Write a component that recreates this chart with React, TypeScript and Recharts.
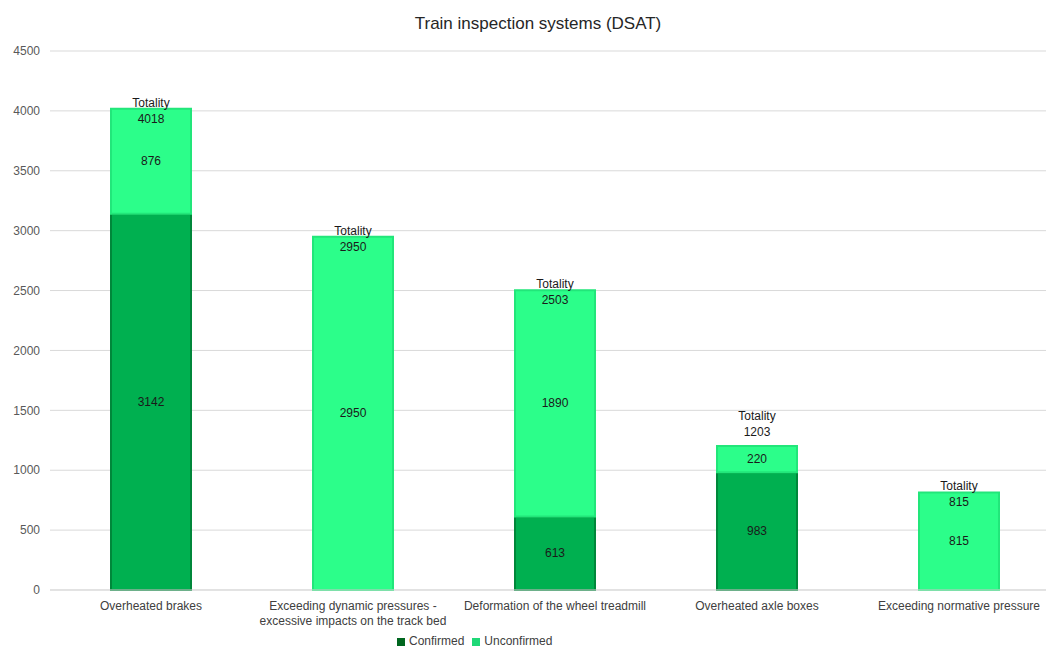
import { Bar, BarChart, CartesianGrid, LabelList, XAxis, YAxis } from "recharts";

const categories = [
  "Overheated brakes",
  "Exceeding dynamic pressures - excessive impacts on the track bed",
  "Deformation of the wheel treadmill",
  "Overheated axle boxes",
  "Exceeding normative pressure",
];
const confirmed = [3142, 0, 613, 983, 0];
const unconfirmed = [876, 2950, 1890, 220, 815];
const yTicks = [0, 500, 1000, 1500, 2000, 2500, 3000, 3500, 4000, 4500];

const data = categories.map((name, i) => ({
  name,
  confirmed: confirmed[i],
  unconfirmed: unconfirmed[i],
  total: confirmed[i] + unconfirmed[i],
}));

const FONT = "'Liberation Sans', Arial, sans-serif";
const DARK = "#00b050";
const LIGHT = "#2cfe8a";

function SegmentLabel(props: any) {
  const { x, y, width, height, value } = props;
  if (!value) return null;
  return (
    <text
      x={x + width / 2}
      y={y + height / 2}
      textAnchor="middle"
      dominantBaseline="central"
      fontSize={12}
      fill="#1a1a1a"
      fontFamily={FONT}
    >
      {value}
    </text>
  );
}

function TotalLabel(props: any) {
  const { x, y, width, height, index } = props;
  const total = confirmed[index] + unconfirmed[index];
  const cx = x + width / 2;
  // small top segment: put the total above the bar so it does not hit the segment label
  const above = height < 40;
  const numY = above ? y - 14 : y + 10;
  const capY = above ? y - 30 : y - 6;
  return (
    <g fontFamily={FONT} fontSize={12} fill="#1a1a1a" textAnchor="middle">
      <text x={cx} y={capY} dominantBaseline="central">Totality</text>
      <text x={cx} y={numY} dominantBaseline="central">{total}</text>
    </g>
  );
}

// break long category names after the " - " like the original
function CategoryTick(props: any) {
  const { x, y, payload } = props;
  const lines = String(payload.value).split(/(?<=- )/);
  return (
    <text x={x} y={y} textAnchor="middle" fontSize={12} fill="#404040" fontFamily={FONT}>
      {lines.map((l, i) => (
        <tspan key={i} x={x} dy={i === 0 ? 14 : 15}>
          {l.trim()}
        </tspan>
      ))}
    </text>
  );
}

export default function App() {
  return (
    <div
      style={{
        position: "absolute",
        top: 0,
        left: 0,
        width: 1046,
        height: 647,
        overflow: "hidden",
        background: "#fff",
        fontFamily: FONT,
      }}
    >
      <div
        style={{
          position: "absolute",
          top: 14,
          left: 0,
          width: 1076,
          textAlign: "center",
          fontSize: 17,
          color: "#262626",
        }}
      >
        Train inspection systems (DSAT)
      </div>
      <BarChart
        width={1076}
        height={647}
        data={data}
        margin={{ top: 51, right: 16, left: 0, bottom: 0 }}
        barSize={80}
      >
        <CartesianGrid vertical={false} stroke="#d9d9d9" />
        <XAxis
          dataKey="name"
          axisLine={{ stroke: "#d9d9d9" }}
          tickLine={false}
          interval={0}
          height={57}
          tickMargin={0}
          tick={<CategoryTick />}
        />
        <YAxis
          width={50}
          domain={[0, 4500]}
          ticks={yTicks}
          axisLine={false}
          tickLine={false}
          tickSize={0}
          tickMargin={10}
          tick={{ fontSize: 12, fill: "#595959", fontFamily: FONT }}
        />
        <Bar
          dataKey="confirmed"
          name="Confirmed"
          stackId="a"
          fill={DARK}
          stroke="#00873a"
          strokeWidth={2}
          isAnimationActive={false}
        >
          <LabelList dataKey="confirmed" content={<SegmentLabel />} />
        </Bar>
        <Bar
          dataKey="unconfirmed"
          name="Unconfirmed"
          stackId="a"
          fill={LIGHT}
          stroke="#22e67a"
          strokeWidth={2}
          isAnimationActive={false}
        >
          <LabelList dataKey="unconfirmed" content={<SegmentLabel />} />
          <LabelList dataKey="unconfirmed" content={<TotalLabel />} />
        </Bar>
      </BarChart>
      <div
        style={{
          position: "absolute",
          top: 636,
          left: 397,
          display: "flex",
          alignItems: "center",
          fontSize: 12,
          color: "#404040",
          lineHeight: "11px",
        }}
      >
        <span style={{ width: 8, height: 8, background: "#00661f", marginRight: 4 }} />
        <span style={{ marginRight: 8 }}>Confirmed</span>
        <span style={{ width: 8, height: 8, background: "#1fd877", marginRight: 4 }} />
        <span>Unconfirmed</span>
      </div>
    </div>
  );
}
